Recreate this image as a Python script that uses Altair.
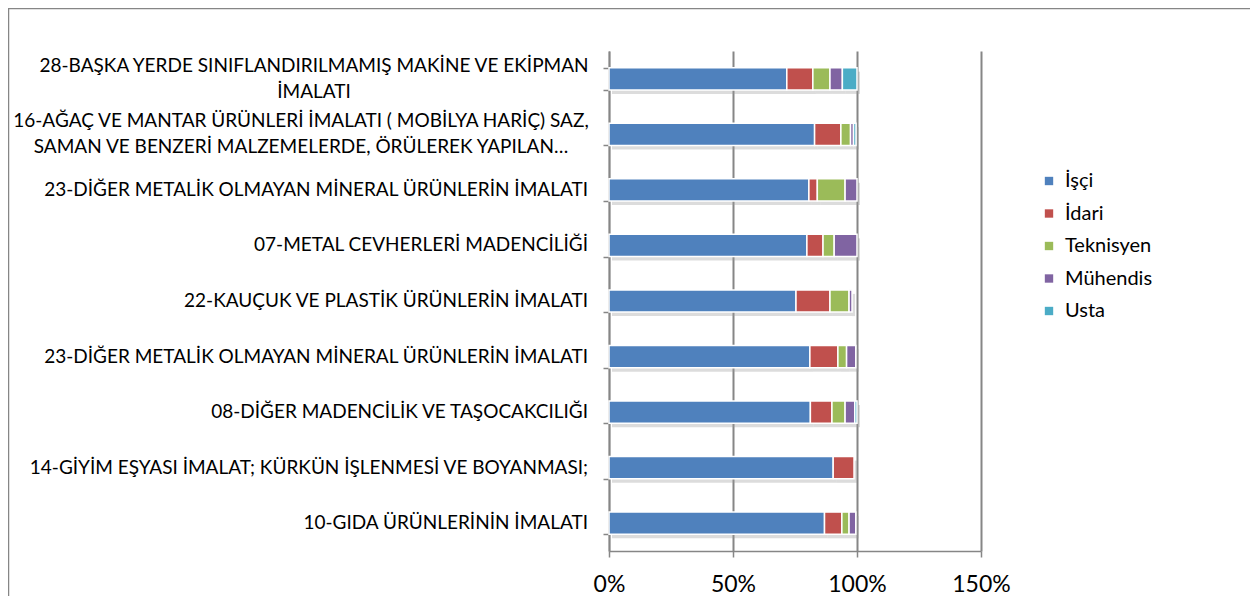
import altair as alt
import pandas as pd

categories = [
    "28-BAŞKA YERDE SINIFLANDIRILMAMIŞ MAKİNE VE EKİPMAN|İMALATI",
    "16-AĞAÇ VE MANTAR ÜRÜNLERİ İMALATI ( MOBİLYA HARİÇ) SAZ,|SAMAN VE BENZERİ MALZEMELERDE, ÖRÜLEREK YAPILAN…",
    "23-DİĞER METALİK OLMAYAN MİNERAL ÜRÜNLERİN İMALATI",
    "07-METAL CEVHERLERİ MADENCİLİĞİ",
    "22-KAUÇUK VE PLASTİK ÜRÜNLERİN İMALATI",
    "23-DİĞER METALİK OLMAYAN MİNERAL ÜRÜNLERİN İMALATI\u200b",
    "08-DİĞER MADENCİLİK VE TAŞOCAKCILIĞI",
    "14-GİYİM EŞYASI İMALAT; KÜRKÜN İŞLENMESİ VE BOYANMASI;",
    "10-GIDA ÜRÜNLERİNİN İMALATI",
]
series = ["İşçi", "İdari", "Teknisyen", "Mühendis", "Usta"]
colors = ["#4F81BD", "#C0504D", "#9BBB59", "#8064A2", "#4BACC6"]

isci = [71.7, 82.9, 80.6, 79.8, 75.4, 81.0, 81.2, 90.4, 86.9]
idari = [10.5, 10.6, 3.4, 6.5, 13.7, 11.3, 8.7, 8.4, 7.0]
teknisyen = [6.9, 3.9, 11.2, 4.5, 7.7, 3.5, 5.3, 0.0, 2.9]
muhendis = [5.0, 1.2, 4.8, 9.2, 1.2, 3.7, 3.9, 0.0, 2.7]
usta = [5.9, 1.0, 0.0, 0.0, 0.0, 0.0, 0.9, 0.0, 0.0]

x_ticks = [0, 50, 100, 150]

rows = []
for si, (name, vals) in enumerate(zip(series, [isci, idari, teknisyen, muhendis, usta])):
    for cat, v in zip(categories, vals):
        if v > 0:
            rows.append({"cat": cat, "series": name, "order": si, "value": v})
df = pd.DataFrame(rows)

label_df = pd.DataFrame({"cat": categories, "two": ["|" in c for c in categories]})

GRAY = "#868686"
FONT = "Lato"

y_enc = alt.Y(
    "cat:N", sort=categories, title=None,
    scale=alt.Scale(paddingInner=0.6, paddingOuter=0.3),
    axis=alt.Axis(
        labels=False,
        tickBand="extent", tickSize=6, tickColor=GRAY, tickWidth=1.5,
        domainColor=GRAY, domainWidth=1.5, grid=False,
    ),
)
x_enc = alt.X(
    "value:Q", title=None, stack="zero",
    scale=alt.Scale(domain=[0, 150], nice=False),
    axis=alt.Axis(
        values=x_ticks, labelExpr="datum.value + '%'", labelFlush=False,
        labelFont=FONT, labelFontSize=23, labelColor="#000000", labelPadding=16,
        tickSize=6, tickColor=GRAY, tickWidth=1.5,
        domainColor=GRAY, domainWidth=1.5,
        grid=True, gridColor=GRAY, gridWidth=2,
    ),
)

base = alt.Chart(df)

shadow = base.mark_bar(color="#9a9a9a", opacity=0.35, xOffset=3, yOffset=4).encode(
    x=x_enc, y=y_enc, order=alt.Order("order:Q"), detail="series:N"
)

bars = base.mark_bar(stroke="white", strokeWidth=1.5).encode(
    x=x_enc,
    y=y_enc,
    color=alt.Color(
        "series:N", sort=series, title=None,
        scale=alt.Scale(domain=series, range=colors),
        legend=alt.Legend(
            orient="none", legendX=430, legendY=120,
            symbolType="square", symbolSize=70, symbolStrokeWidth=0,
            labelFont=FONT, labelFontSize=20, labelColor="#000000",
            rowPadding=12.5, labelOffset=6,
        ),
    ),
    order=alt.Order("order:Q"),
)

lab_common = dict(baseline="middle", font=FONT, fontSize=19,
                  color="#000000", lineBreak="|", lineHeight=26)
labels_one = alt.Chart(label_df).transform_filter("!datum.two").mark_text(align="right", **lab_common).encode(
    y=alt.Y("cat:N", sort=categories), x=alt.value(-21), text="cat:N"
)
# wrapped labels: lines centred under the (right-aligned) first line
two_line_layers = []
for cat, centre in [(categories[0], -295), (categories[1], -308)]:
    two_line_layers.append(
        alt.Chart(label_df).transform_filter(alt.datum.cat == cat)
        .mark_text(align="center", dy=-13, **lab_common)
        .encode(y=alt.Y("cat:N", sort=categories), x=alt.value(centre), text="cat:N")
    )

frame_df = pd.DataFrame({"a": [0]})
frame_left = alt.Chart(frame_df).mark_rule(color=GRAY, strokeWidth=2.5).encode(
    x=alt.value(-601), y=alt.value(-43), y2=alt.value(560)
)
frame_top = alt.Chart(frame_df).mark_rule(color=GRAY, strokeWidth=2.5).encode(
    x=alt.value(-601), x2=alt.value(700), y=alt.value(-43)
)

chart = alt.layer(shadow, bars, labels_one, *two_line_layers, frame_left, frame_top).properties(
    width=372, height=500,
    autosize=alt.AutoSizeParams(type="none"),
    padding={"left": 601, "top": 43, "right": 269, "bottom": 45},
    background="white",
).configure_view(stroke=None)

chart.save("out.html", embed_options={"renderer": "svg", "actions": False})
